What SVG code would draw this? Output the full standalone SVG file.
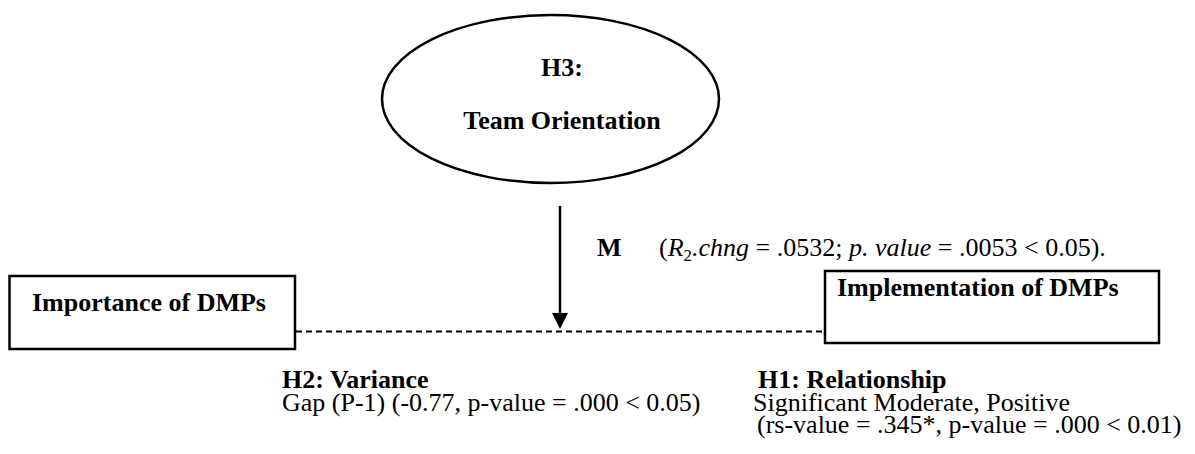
<svg xmlns="http://www.w3.org/2000/svg" width="1195" height="454" viewBox="0 0 1195 454">
  <defs>
    <style>
      .shape { fill: #fff; stroke: #000; stroke-width: 2.5; }
      .b { font-family: "Liberation Serif", "Times New Roman", serif; font-weight: bold; font-size: 26px; fill: #000; }
      .r { font-family: "Liberation Serif", "Times New Roman", serif; font-size: 26px; fill: #000; }
      .i { font-style: italic; }
      .dash { stroke: #000; stroke-width: 2; stroke-dasharray: 6 4; fill: none; }
      .arrow { stroke: #000; stroke-width: 2.5; fill: none; }
    </style>
  </defs>

  <rect width="1195" height="454" fill="#fff"/>

  <!-- connectors: dashed relationship line and the moderation arrow -->
  <g id="connectors">
    <line class="dash" x1="296" y1="331.5" x2="824" y2="331.5"/>
    <line class="arrow" x1="560" y1="206" x2="560" y2="315"/>
    <polygon points="552,313 568,313 560,329" fill="#000"/>
  </g>

  <!-- moderator -->
  <g id="team-orientation">
    <ellipse class="shape" cx="550.5" cy="99" rx="168.5" ry="84"/>
    <text class="b" x="562" y="76" text-anchor="middle">H3:</text>
    <text class="b" x="562" y="129" text-anchor="middle">Team Orientation</text>
  </g>

  <g id="importance">
    <rect class="shape" x="9.5" y="276" width="285.5" height="73"/>
    <text class="b" x="32" y="311">Importance of DMPs</text>
  </g>

  <g id="implementation">
    <rect class="shape" x="825" y="271" width="334" height="72"/>
    <text class="b" x="837" y="296">Implementation of DMPs</text>
  </g>

  <g id="moderation-label">
    <text class="b" x="597" y="256">M</text>
    <text class="r" x="659" y="256">(<tspan class="i">R</tspan><tspan font-size="17" dy="5">2</tspan><tspan class="i" dy="-5">.chng</tspan> = .0532; <tspan class="i">p. value</tspan> = .0053 &lt; 0.05).</text>
  </g>

  <g id="h2-label">
    <text class="b" x="282" y="388">H2: Variance</text>
    <text class="r" x="282" y="411">Gap (P-1) (-0.77, p-value = .000 &lt; 0.05)</text>
  </g>

  <g id="h1-label">
    <text class="b" x="758" y="388">H1: Relationship</text>
    <text class="r" x="753" y="411">Significant Moderate, Positive</text>
    <text class="r" x="757" y="433">(rs-value = .345*, p-value = .000 &lt; 0.01)</text>
  </g>
</svg>
